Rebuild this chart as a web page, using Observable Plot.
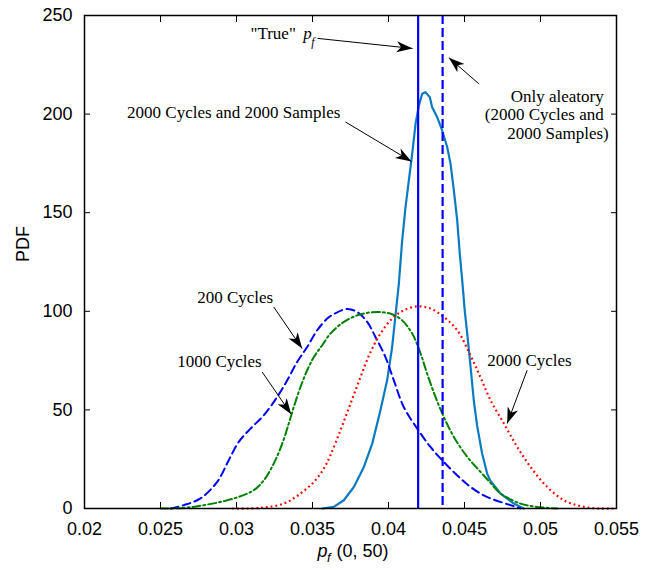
<!DOCTYPE html>
<html><head><meta charset="utf-8">
<script src="https://cdn.jsdelivr.net/npm/d3@7"></script>
<script src="https://cdn.jsdelivr.net/npm/@observablehq/plot@0.6"></script>
<style>body{margin:0;background:#fff}</style>
</head><body><div id="chart"></div>
<script>
// ---- tick values and labels ----
const xTicks = [0.02, 0.025, 0.03, 0.035, 0.04, 0.045, 0.05, 0.055];
const xTickLabels = ["0.02", "0.025", "0.03", "0.035", "0.04", "0.045", "0.05", "0.055"];
const yTicks = [0, 50, 100, 150, 200, 250];
const yTickLabels = ["0", "50", "100", "150", "200", "250"];

// ---- 200 Cycles (blue dashed) ----
const c200X = [0.02566,0.02653,0.02763,0.02873,0.02949,0.03015,0.03092,0.0318,0.03268,0.03334,0.03399,0.03465,0.03531,0.03597,0.0364,0.03728,0.03794,0.0386,0.03914,0.0398,0.04035,0.041,0.04189,0.04276,0.04364,0.04474,0.0454,0.04605,0.04671,0.04803,0.04868];
const c200Y = [0,1.7,5.1,13.5,24.5,33.8,40.5,47.3,56.6,65,74.3,81.9,90.4,96.3,98.6,101.2,99.6,94.6,87,76.8,65,51.5,40.5,31.2,23.6,15.2,10.9,7.6,5.1,1.7,0];

// ---- 1000 Cycles (green dash-dot) ----
const c1000X = [0.025,0.02653,0.02785,0.02916,0.03026,0.03114,0.0318,0.03245,0.03301,0.03344,0.03377,0.03421,0.03465,0.03509,0.03564,0.03618,0.03706,0.03816,0.03936,0.04024,0.0409,0.04156,0.04211,0.04254,0.04309,0.04364,0.0443,0.04518,0.04605,0.04671,0.04737,0.04868,0.04978,0.0511];
const c1000Y = [0,0.3,1.7,3.7,6.2,9.3,14.3,22.8,32.9,43.1,51.5,61.6,70.1,76.8,82.8,88.7,94.6,98.5,99.6,98.5,95.4,88.7,78.6,68.4,56.6,46.4,36.3,26.2,18.6,13,7.6,2.5,0.8,0];

// ---- 2000 Cycles (red dotted) ----
const c2000X = [0.02972,0.03158,0.03311,0.03421,0.03509,0.03575,0.03618,0.03684,0.0375,0.03816,0.03882,0.03947,0.04024,0.041,0.04189,0.04276,0.04364,0.04452,0.0454,0.04605,0.04671,0.04759,0.04847,0.04934,0.05044,0.05153,0.05263,0.05373,0.05482];
const c2000Y = [0,0.3,2.5,7.6,13.5,20.3,27,39.7,53.2,66.7,79.4,88.7,96.3,100.5,102.5,101.4,97.1,90.4,77.5,66.5,54.9,43.1,31.2,21.1,10.9,4.2,1.2,0,0];

// ---- 2000 Cycles and 2000 Samples (solid light blue) ----
const cSampX = [0.03564,0.0364,0.03706,0.03772,0.03838,0.03893,0.03947,0.03991,0.04024,0.04046,0.04068,0.0409,0.04112,0.04134,0.04156,0.04178,0.042,0.04222,0.04243,0.04272,0.04287,0.0432,0.04353,0.04386,0.04408,0.0443,0.04452,0.04469,0.04485,0.04502,0.04518,0.0454,0.04561,0.04583,0.04616,0.04649,0.04671,0.04737,0.04824,0.04889];
const cSampY = [0,0.8,4.2,10.9,21.1,32.9,49.8,65,81.9,98,114,136,152.9,166.4,179.9,195.1,204.4,210.3,211.1,208.6,203.5,198.5,191.7,183.3,174.9,161.3,146.1,129.2,115.7,100,88.7,71.8,54.9,42,27.9,17.7,14,7.6,2.5,0];

// ---- reference lines ----
const truePf = 0.04195;
const aleatoryPf = 0.04356;

// ---- annotation texts ----
const startTexts = ["\"True\"", "2000 Cycles and 2000 Samples", "200 Cycles", "1000 Cycles", "2000 Cycles"];
const startTextX = [0.03092, 0.0228, 0.02741, 0.0261, 0.04649];
const startTextY = [240.9, 201, 106.9, 74.3, 75.2];
const endTexts = ["Only aleatory", "(2000 Cycles and", "2000 Samples)"];
const endTextX = [0.05416, 0.05416, 0.05449];
const endTextY = [209.1, 199.7, 190.1];
const pfSymbolX = 0.03439, pfSymbolY = 240.9;
const pfSubX = 0.03491, pfSubY = 236.6;

// ---- annotation arrows ----
const arrX1 = [0.03533, 0.04594, 0.03717, 0.03245, 0.03169, 0.04912];
const arrY1 = [238.4, 215.4, 196, 102.2, 69.2, 70.1];
const arrX2 = [0.04158, 0.04397, 0.04151, 0.03432, 0.0336, 0.04781];
const arrY2 = [233.3, 228.6, 176, 81.1, 47.8, 43.1];

// ---- build tables ----
const toRows = (xs, ys) => xs.map((x, i) => ({x, y: ys[i]}));
const d200 = toRows(c200X, c200Y);
const d1000 = toRows(c1000X, c1000Y);
const d2000 = toRows(c2000X, c2000Y);
const dSamp = toRows(cSampX, cSampY);
const startRows = startTexts.map((t, i) => ({t, x: startTextX[i], y: startTextY[i]}));
const endRows = endTexts.map((t, i) => ({t, x: endTextX[i], y: endTextY[i]}));
const arrows = arrX1.map((x1, i) => ({x1, y1: arrY1[i], x2: arrX2[i], y2: arrY2[i]}));

const serif = "Liberation Serif, Times New Roman, serif";
const sans = "Liberation Sans, Arial, Helvetica, sans-serif";
const xFmt = d => xTickLabels[xTicks.indexOf(d)];
const yFmt = d => yTickLabels[yTicks.indexOf(d)];

const plot = Plot.plot({
  width: 656,
  height: 571,
  marginLeft: 84,
  marginRight: 40,
  marginTop: 15,
  marginBottom: 63,
  style: {fontFamily: sans, background: "#fff"},
  x: {domain: [0.02, 0.055]},
  y: {domain: [0, 250]},
  marks: [
    Plot.line(dSamp, {x: "x", y: "y", stroke: "#0b7bc1", strokeWidth: 2.2, curve: "linear"}),
    Plot.line(d200, {x: "x", y: "y", stroke: "#0000ff", strokeWidth: 2, strokeDasharray: "8,4.5", curve: "catmull-rom"}),
    Plot.line(d1000, {x: "x", y: "y", stroke: "#008000", strokeWidth: 2, strokeDasharray: "8,3,2,3", curve: "catmull-rom"}),
    Plot.line(d2000, {x: "x", y: "y", stroke: "#ff0000", strokeWidth: 2.2, strokeDasharray: "1.8,3", strokeLinecap: "butt", curve: "catmull-rom"}),
    Plot.ruleX([truePf], {stroke: "#0000ff", strokeWidth: 2.2}),
    Plot.ruleX([aleatoryPf], {stroke: "#0000ff", strokeWidth: 2.2, strokeDasharray: "9,4"}),
    Plot.link(arrows, {x1: "x1", y1: "y1", x2: "x2", y2: "y2", stroke: "black", strokeWidth: 1}),
    Plot.text(startRows, {x: "x", y: "y", text: "t", textAnchor: "start", fontFamily: serif, fontSize: 17, fill: "black"}),
    Plot.text(endRows, {x: "x", y: "y", text: "t", textAnchor: "end", fontFamily: serif, fontSize: 17, fill: "black"}),
    Plot.text(["p"], {x: pfSymbolX, y: pfSymbolY, textAnchor: "start", fontFamily: serif, fontStyle: "italic", fontSize: 17, fill: "black"}),
    Plot.text(["f"], {x: pfSubX, y: pfSubY, textAnchor: "start", fontFamily: serif, fontStyle: "italic", fontSize: 12, fill: "black"}),
    Plot.frame({stroke: "black", strokeWidth: 1.5}),
    Plot.axisX(xTicks, {anchor: "bottom", tickSize: -6, tickPadding: 20, tickFormat: xFmt, fontSize: 18, label: null, stroke: "black"}),
    Plot.axisX(xTicks, {anchor: "top", tickSize: -6, tickFormat: () => "", label: null, stroke: "black"}),
    Plot.axisY(yTicks, {anchor: "left", tickSize: -6, tickPadding: 18, tickFormat: yFmt, fontSize: 18, label: null, stroke: "black"}),
    Plot.axisY(yTicks, {anchor: "right", tickSize: -6, tickFormat: () => "", label: null, stroke: "black"}),
    Plot.text(["PDF"], {frameAnchor: "left", dx: -61, rotate: -90, fontSize: 18, fontFamily: sans, fill: "black"}),
    Plot.text(["p"], {frameAnchor: "bottom", dx: -33, dy: 48, textAnchor: "start", fontStyle: "italic", fontSize: 18, fontFamily: sans, fill: "black"}),
    Plot.text(["f"], {frameAnchor: "bottom", dx: -23.5, dy: 53, textAnchor: "start", fontStyle: "italic", fontSize: 13, fontFamily: sans, fill: "black"}),
    Plot.text(["(0, 50)"], {frameAnchor: "bottom", dx: -14, dy: 48, textAnchor: "start", fontSize: 18, fontFamily: sans, fill: "black"})
  ]
});

// filled arrowheads on the annotation links
const svg = d3.select(plot);
const defs = svg.insert("defs", ":first-child");
defs.append("marker")
  .attr("id", "ahead")
  .attr("viewBox", "-17 -7 18 14")
  .attr("refX", 0).attr("refY", 0)
  .attr("markerWidth", 18).attr("markerHeight", 14)
  .attr("markerUnits", "userSpaceOnUse")
  .attr("orient", "auto")
  .append("path")
  .attr("d", "M0,0L-16,-5.5L-11.5,0L-16,5.5Z")
  .attr("fill", "black");
svg.selectAll('g[aria-label="link"] path').attr("marker-end", "url(#ahead)");

document.getElementById("chart").appendChild(plot);
</script>
</body></html>
